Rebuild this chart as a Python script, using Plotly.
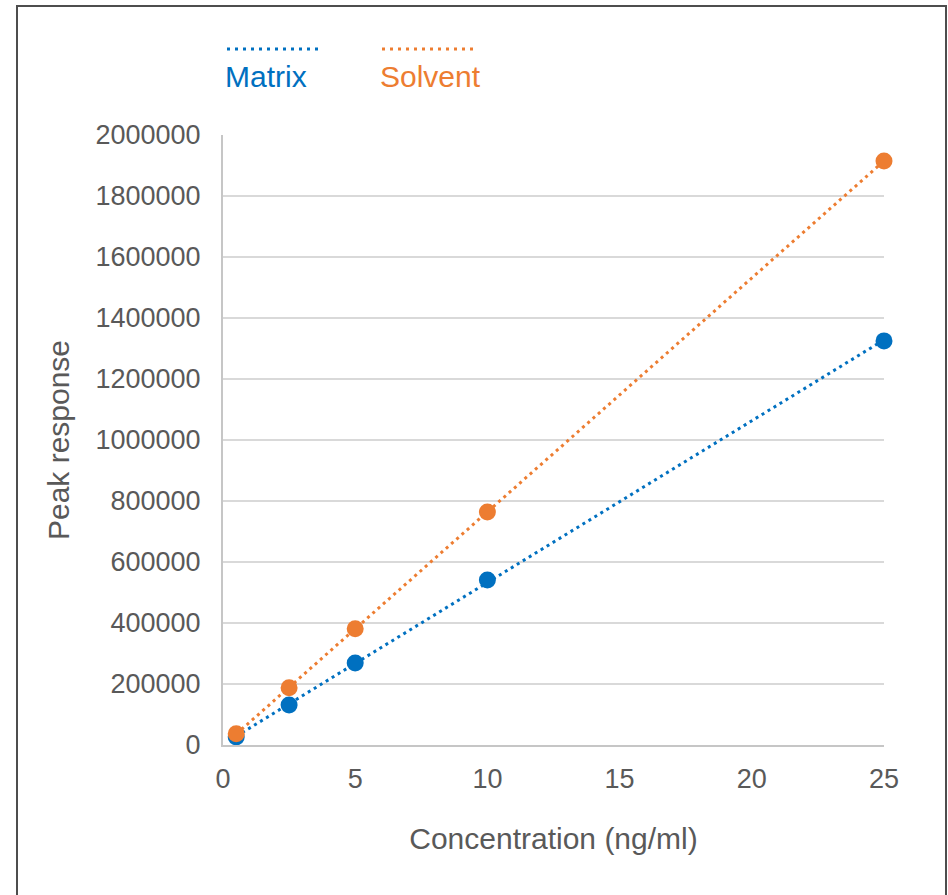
import numpy as np
import plotly.graph_objects as go

concentration = [0.5, 2.5, 5, 10, 25]
matrix = [26000, 131000, 269000, 541000, 1325000]
solvent = [37000, 188000, 381000, 764000, 1915000]
series_names = ["Matrix", "Solvent"]
colors = ["#0070C0", "#ED7D31"]

W, H = 948, 895
L, R, T, B = 223, 64, 135, 150
pw, ph = W - L - R, H - T - B

def px_to_paper_x(px):
    return (px - L) / pw

def px_to_paper_y(py):
    return (H - B - py) / ph

fig = go.Figure()

for name, ys, c in zip(series_names, [matrix, solvent], colors):
    k, b = np.polyfit(concentration, ys, 1)
    xs = [min(concentration), max(concentration)]
    fig.add_trace(go.Scatter(
        x=xs, y=[k * x + b for x in xs], mode="lines",
        line=dict(color=c, width=3, dash="3px,4px"),
        showlegend=False, hoverinfo="skip", cliponaxis=False))

for name, ys, c in zip(series_names, [matrix, solvent], colors):
    fig.add_trace(go.Scatter(
        x=concentration, y=ys, mode="markers", name=name,
        marker=dict(color=c, size=17, line=dict(width=0)),
        showlegend=False, cliponaxis=False))

font_family = "Liberation Sans, Arial, sans-serif"
tick_color = "#595959"

# legend (line above label)
legend_x = [225, 380]
for name, c, lx in zip(series_names, colors, legend_x):
    fig.add_shape(type="line", xref="paper", yref="paper",
                  x0=px_to_paper_x(lx + 2), x1=px_to_paper_x(lx + 94),
                  y0=px_to_paper_y(49), y1=px_to_paper_y(49),
                  line=dict(color=c, width=3, dash="3px,5px"))
    fig.add_annotation(text=name, xref="paper", yref="paper",
                       x=px_to_paper_x(lx - 2), y=px_to_paper_y(76),
                       xanchor="left", yanchor="middle", showarrow=False,
                       font=dict(size=30, color=c, family=font_family))

# outer frame
fig.add_shape(type="rect", xref="paper", yref="paper",
              x0=px_to_paper_x(17), x1=px_to_paper_x(946),
              y0=px_to_paper_y(905), y1=px_to_paper_y(6),
              line=dict(color="#4d4d4d", width=2), fillcolor="rgba(0,0,0,0)",
              layer="below")

fig.update_layout(
    width=W, height=H,
    margin=dict(l=L, r=R, t=T, b=B, autoexpand=False),
    paper_bgcolor="white", plot_bgcolor="white",
    font=dict(family=font_family, color=tick_color),
    xaxis=dict(range=[0, 25], tickvals=[0, 5, 10, 15, 20, 25],
               showgrid=False, zeroline=False, showline=True,
               linecolor="#c6c6c6", linewidth=2, ticks="",
               tickfont=dict(size=27, color=tick_color),
               ticklabelstandoff=9,
               title=dict(text="Concentration (ng/ml)", standoff=35,
                          font=dict(size=30, color=tick_color))),
    yaxis=dict(range=[0, 2000000], dtick=200000, tickformat="d",
               showgrid=True, gridcolor="#d9d9d9", gridwidth=1.5,
               zeroline=False, showline=True, linecolor="#c6c6c6",
               linewidth=2, ticks="",
               tickfont=dict(size=27, color=tick_color),
               ticklabelstandoff=15,
               title=dict(text="Peak response", standoff=17,
                          font=dict(size=30, color=tick_color))),
)

fig.write_html(
    "out.html",
    config={"displayModeBar": False},
    post_script="document.body.style.margin='0';document.body.style.overflow='hidden';",
)
